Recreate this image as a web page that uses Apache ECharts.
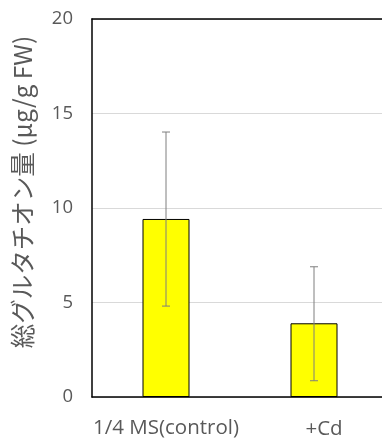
<!DOCTYPE html>
<html>
<head>
<meta charset="utf-8">
<script src="https://cdn.jsdelivr.net/npm/echarts@6/dist/echarts.min.js"></script>
<style>
  html, body { margin: 0; padding: 0; background: #fff; overflow: hidden; }
  #chart { width: 382px; height: 439px; }
</style>
</head>
<body>
<div id="chart"></div>
<script>
// Total glutathione content per treatment, with error ranges
const categories = ['1/4 MS(control)', '+Cd'];
const meanValues = [9.42, 3.9];
const errorLow = [4.81, 0.86];
const errorHigh = [14.02, 6.89];
const yTicks = [0, 5, 10, 15, 20];

const chart = echarts.init(document.getElementById('chart'), null, { renderer: 'canvas' });

const errorData = categories.map((c, i) => [i, errorLow[i], errorHigh[i]]);

chart.setOption({
  animation: false,
  grid: {
    // plot area runs slightly past the right edge of the view
    left: 92, top: 19, width: 296, height: 378,
    outerBoundsMode: 'none',
    containLabel: false,
    show: false
  },
  xAxis: [
    {
      type: 'category',
      data: categories,
      axisLine: { lineStyle: { color: '#000', width: 1.5 } },
      axisTick: { show: false },
      splitLine: { show: false },
      axisLabel: {
        interval: 0,
        hideOverlap: false,
        color: '#595959',
        fontFamily: 'Open Sans',
        fontSize: 20.5,
        margin: 21,
        formatter: (v) => v === '+Cd' ? '{cd|' + v + '}' : v,
        rich: {
          cd: { fontFamily: 'Open Sans', fontSize: 20.5, color: '#595959', padding: [1, 0, 0, 20] }
        }
      }
    },
    {
      // top frame line of the plot area
      type: 'category',
      data: categories,
      position: 'top',
      axisLine: { show: true, onZero: false, lineStyle: { color: '#000', width: 1.5 } },
      axisTick: { show: false },
      axisLabel: { show: false },
      splitLine: { show: false }
    }
  ],
  yAxis: {
    type: 'value',
    min: yTicks[0],
    max: yTicks[yTicks.length - 1],
    interval: 5,
    name: '総グルタチオン量 (μg/g FW)',
    nameLocation: 'middle',
    nameGap: 57,
    nameTextStyle: {
      color: '#595959',
      fontFamily: 'Noto Sans CJK JP',
      fontSize: 24.5,
      padding: [0, 0, 0, 32]
    },
    axisLine: { show: true, lineStyle: { color: '#000', width: 1.5 } },
    axisTick: { show: false },
    splitLine: { lineStyle: { color: '#d9d9d9', width: 1 } },
    axisLabel: {
      color: '#595959',
      fontFamily: 'Open Sans',
      fontSize: 18.5,
      margin: 19
    }
  },
  series: [
    {
      type: 'bar',
      data: meanValues,
      barWidth: 47,
      itemStyle: { color: '#ffff00', borderColor: '#000', borderWidth: 1 },
      z: 2
    },
    {
      // error bars with end caps
      type: 'custom',
      data: errorData,
      z: 3,
      renderItem: (params, api) => {
        const x = api.value(0);
        const lo = api.coord([x, api.value(1)]);
        const hi = api.coord([x, api.value(2)]);
        const cap = 4;
        const style = { stroke: '#7f7f7f', lineWidth: 1 };
        return {
          type: 'group',
          children: [
            { type: 'line', shape: { x1: lo[0], y1: lo[1], x2: hi[0], y2: hi[1] }, style },
            { type: 'line', shape: { x1: hi[0] - cap, y1: hi[1], x2: hi[0] + cap, y2: hi[1] }, style },
            { type: 'line', shape: { x1: lo[0] - cap, y1: lo[1], x2: lo[0] + cap, y2: lo[1] }, style }
          ]
        };
      }
    }
  ]
});
</script>
</body>
</html>
